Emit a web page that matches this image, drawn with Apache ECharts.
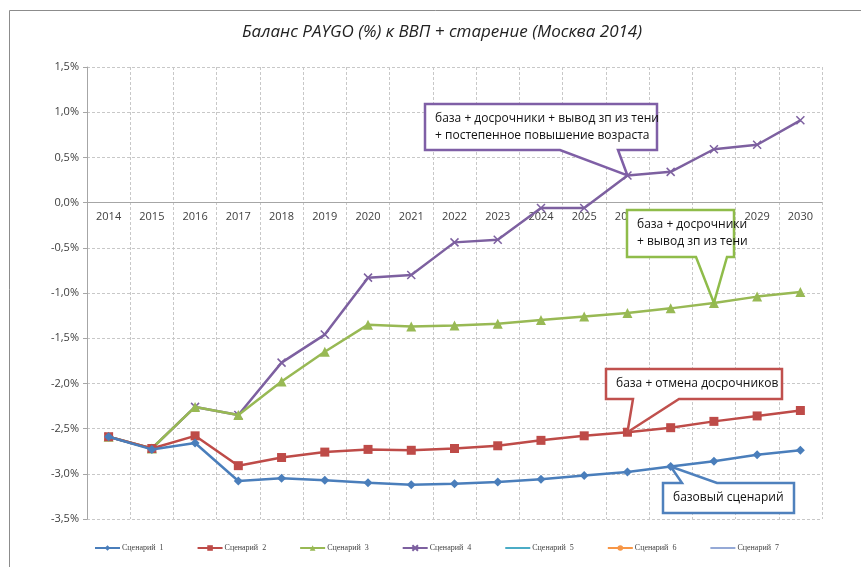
<!DOCTYPE html>
<html>
<head>
<meta charset="utf-8">
<script src="https://cdn.jsdelivr.net/npm/echarts@6/dist/echarts.min.js"></script>
<style>
  html, body { margin: 0; padding: 0; background: #fff; }
  #chart { width: 861px; height: 567px; }
</style>
</head>
<body>
<div id="chart"></div>
<script>
// Balance of the PAYGO system, % of GDP, by scenario (Moscow, 2014 base)
const years = ['2014','2015','2016','2017','2018','2019','2020','2021','2022','2023','2024','2025','2026','2027','2028','2029','2030'];

const scenario1 = [-2.59,-2.73,-2.66,-3.08,-3.05,-3.07,-3.10,-3.12,-3.11,-3.09,-3.06,-3.02,-2.98,-2.92,-2.86,-2.79,-2.74];
const scenario2 = [-2.59,-2.72,-2.58,-2.91,-2.82,-2.76,-2.73,-2.74,-2.72,-2.69,-2.63,-2.58,-2.54,-2.49,-2.42,-2.36,-2.30];
const scenario3 = [-2.59,-2.72,-2.26,-2.35,-1.98,-1.65,-1.35,-1.37,-1.36,-1.34,-1.30,-1.26,-1.22,-1.17,-1.11,-1.04,-0.99];
const scenario4 = [-2.59,-2.72,-2.26,-2.35,-1.77,-1.46,-0.83,-0.80,-0.44,-0.41,-0.06,-0.06,0.30,0.34,0.59,0.64,0.91];
const scenario5 = [];
const scenario6 = [];
const scenario7 = [];

const seriesNames = ['Сценарий  1','Сценарий  2','Сценарий  3','Сценарий  4','Сценарий  5','Сценарий  6','Сценарий  7'];
const yMin = -3.5, yMax = 1.5, yStep = 0.5;

const titleText = 'Баланс PAYGO (%) к ВВП + старение (Москва 2014)';

// callout texts and the point each one refers to
const callouts = [
  { text: 'база + досрочники + вывод зп из тени\n+ постепенное повышение возраста', series: 3, year: '2026', color: '#7f5fa6' },
  { text: 'база + досрочники\n+ вывод зп из тени', series: 2, year: '2028', color: '#8fbc4a' },
  { text: 'база + отмена досрочников', series: 1, year: '2026', color: '#c0504d' },
  { text: 'базовый сценарий', series: 0, year: '2027', color: '#4f81bd' }
];

const colors = ['#4a7ebb','#be4b48','#98b954','#7d60a0','#4bacc6','#f79646','#95a9d6'];
const symbols = ['diamond','rect','triangle','path://M0,0L10,10M10,0L0,10','path://M0,5L10,5M5,0L5,10','circle','path://M0,5L10,5M5,0L5,10'];
const sizes = [9,9,10,8,8,7,8];
const dataSets = [scenario1,scenario2,scenario3,scenario4,scenario5,scenario6,scenario7];

// plot area
const gridTop = 67, gridBottom = 48, gridLeft = 87, gridRight = 39;
const plotH = 567 - gridTop - gridBottom;
// distance from the bottom of the plot up to the zero line, where the year labels sit
const zeroOffset = plotH * (0 - yMin) / (yMax - yMin);

const chart = echarts.init(document.getElementById('chart'), null, { renderer: 'canvas' });

const series = dataSets.map((d, i) => ({
  name: seriesNames[i],
  type: 'line',
  data: d,
  symbol: symbols[i],
  symbolSize: sizes[i],
  showAllSymbol: true,
  lineStyle: { color: colors[i], width: 2.5 },
  itemStyle: { color: colors[i], borderColor: colors[i], borderWidth: i === 3 ? 1.5 : 0 },
  emphasis: { disabled: true },
  animation: false,
  z: 10 - i
}));

const option = {
  animation: false,
  backgroundColor: '#fff',
  color: colors,
  title: {
    text: titleText,
    left: 237,
    top: 19,
    textStyle: { fontFamily: 'Open Sans', fontStyle: 'italic', fontWeight: 'normal', fontSize: 17, color: '#222' }
  },
  legend: {
    bottom: 10,
    left: 89,
    itemGap: 33,
    itemWidth: 25,
    itemHeight: 7,
    textStyle: { fontFamily: 'Liberation Serif', fontSize: 8, color: '#444', padding: [0, 0, 0, -3] },
    data: seriesNames
  },
  grid: { left: gridLeft, right: gridRight, top: gridTop, bottom: gridBottom, containLabel: false },
  xAxis: {
    type: 'category',
    data: years,
    boundaryGap: true,
    position: 'bottom',
    offset: -zeroOffset,
    axisLine: { onZero: false, lineStyle: { color: '#a6a6a6', width: 1 } },
    axisTick: { show: false },
    axisLabel: { fontFamily: 'Open Sans', fontSize: 11, color: '#404040', margin: 9, interval: 0 },
    splitLine: { show: true, interval: 0, lineStyle: { color: '#c8c8c8', type: [3, 2], width: 1 } }
  },
  yAxis: {
    type: 'value',
    min: yMin,
    max: yMax,
    interval: yStep,
    axisLine: { show: true, lineStyle: { color: '#a6a6a6' } },
    axisTick: { show: true, length: 4, lineStyle: { color: '#a6a6a6' } },
    axisLabel: {
      fontFamily: 'Open Sans', fontSize: 11, color: '#404040', margin: 8,
      formatter: v => v.toFixed(1).replace('.', ',') + '%'
    },
    splitLine: { show: true, lineStyle: { color: '#c8c8c8', type: [3, 2], width: 1 } }
  },
  series: series
};

chart.setOption(option);

// Callout boxes: placed in pixels, pointer tips taken from the data points
const boxes = [
  { x: 425, y: 104, w: 232, h: 46, base: [560, 618], side: 'bottom' },
  { x: 627, y: 210, w: 107, h: 47, base: [696, 727], side: 'bottom' },
  { x: 606, y: 369, w: 176, h: 30, base: [633, 679], side: 'bottom' },
  { x: 663, y: 483, w: 131, h: 30, base: [682, 717], side: 'top' }
];

const graphics = [
  // chart-area frame
  { type: 'rect', shape: { x: 9.5, y: 10.5, width: 900, height: 700 }, style: { fill: 'none', stroke: '#8c8c8c', lineWidth: 1 }, z: 0, silent: true }
];

callouts.forEach((c, i) => {
  const b = boxes[i];
  const idx = years.indexOf(c.year);
  const tip = chart.convertToPixel({ gridIndex: 0 }, [idx, dataSets[c.series][idx]]);
  let pts;
  if (b.side === 'bottom') {
    const yb = b.y + b.h;
    pts = [[b.x, b.y], [b.x + b.w, b.y], [b.x + b.w, yb], [b.base[1], yb], tip, [b.base[0], yb], [b.x, yb]];
  } else {
    pts = [[b.x, b.y], [b.base[0], b.y], tip, [b.base[1], b.y], [b.x + b.w, b.y], [b.x + b.w, b.y + b.h], [b.x, b.y + b.h]];
  }
  graphics.push({
    type: 'polygon',
    shape: { points: pts },
    style: { fill: '#fff', stroke: c.color, lineWidth: 2.5 },
    z: 100
  });
  graphics.push({
    type: 'text',
    x: b.x + 10,
    y: b.y + b.h / 2,
    style: {
      text: c.text,
      fill: '#111',
      font: '12px "Open Sans"',
      lineHeight: 17,
      verticalAlign: 'middle',
      align: 'left'
    },
    z: 101
  });
});

chart.setOption({ graphic: graphics });
</script>
</body>
</html>
